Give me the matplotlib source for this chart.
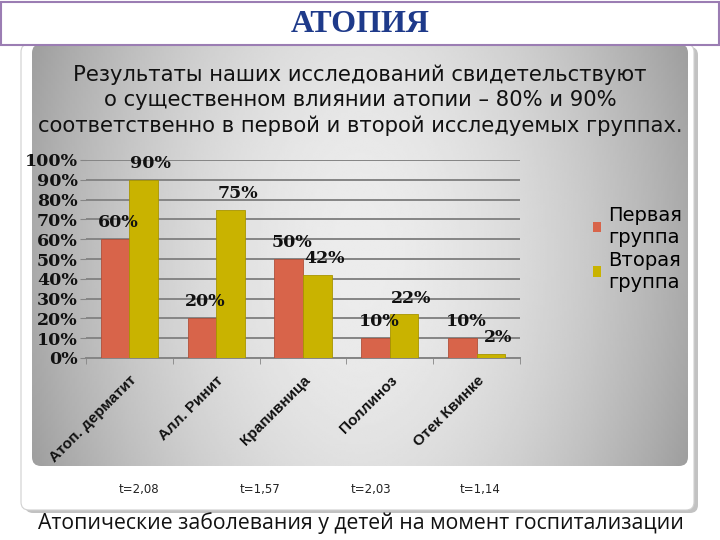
import numpy as np
import matplotlib.pyplot as plt
from matplotlib.patches import FancyBboxPatch, Rectangle, Patch

# данные
categories = ['Атоп. дерматит', 'Алл. Ринит', 'Крапивница', 'Поллиноз', 'Отек Квинке']
group1 = [60, 20, 50, 10, 10]
group2 = [90, 75, 42, 22, 2]
series_names = ['Первая\nгруппа', 'Вторая\nгруппа']
t_values = ['t=2,08', 't=1,57', 't=2,03', 't=1,14']
yticks = [0, 10, 20, 30, 40, 50, 60, 70, 80, 90, 100]

red = '#D8644A'
yellow = '#C9B300'

fig = plt.figure(figsize=(7.2, 5.4), dpi=100)
fig.patch.set_facecolor('white')

# фон слайда
bg = fig.add_axes([0, 0, 1, 1])
bg.set_xlim(0, 720)
bg.set_ylim(540, 0)
bg.axis('off')

# белая карточка с тенью
shadow = FancyBboxPatch((25, 47), 673, 466, boxstyle='round,pad=0,rounding_size=8',
                        fc='#9a9a9a', ec='none', alpha=0.6, zorder=1)
bg.add_patch(shadow)
card = FancyBboxPatch((21, 44), 673, 466, boxstyle='round,pad=0,rounding_size=8',
                      fc='white', ec='#d0d0d0', lw=0.8, zorder=2)
bg.add_patch(card)

# серая панель с градиентом
panel = FancyBboxPatch((32, 44), 656, 422, boxstyle='round,pad=0,rounding_size=9',
                       fc='none', ec='none', zorder=3)
bg.add_patch(panel)
u = np.linspace(0, 1, 300)
v = np.linspace(0, 1, 200)
U, V = np.meshgrid(u, v)
val = 236 - 66 * (np.abs(U - 0.5) * 2) ** 1.8 - 12 * (np.abs(V - 0.5) * 2) ** 2
img = np.clip(val, 0, 255) / 255.0
im = bg.imshow(img, cmap='gray', vmin=0, vmax=1, extent=[32, 688, 466, 44],
               aspect='auto', zorder=3, interpolation='bilinear')
im.set_clip_path(panel)

# заголовок
bg.add_patch(Rectangle((1, 2), 718, 43, fc='white', ec='#9B7DB3', lw=1.5, zorder=5))
bg.text(360, 24, 'АТОПИЯ', ha='center', va='center', fontsize=23, fontweight='bold',
        family='Liberation Serif', color='#1E3A8A', zorder=6)

sub = ['Результаты наших исследований свидетельствуют',
       'о существенном влиянии атопии – 80% и 90%',
       'соответственно в первой и второй исследуемых группах.']
for i, line in enumerate(sub):
    bg.text(360, 75 + i * 25.5, line, ha='center', va='center', fontsize=15.2,
            family='DejaVu Sans', color='#111111', zorder=6)

for x, t in zip([139, 260, 371, 480], t_values):
    bg.text(x, 490, t, ha='center', va='center', fontsize=8.5, family='DejaVu Sans',
            color='#222222', zorder=6)

bg.text(361, 523, 'Атопические заболевания у детей на момент госпитализации',
        ha='center', va='center', fontsize=15.3, family='Open Sans', color='#111111', zorder=6)

# диаграмма
ax = fig.add_axes([86 / 720, 1 - 358 / 540, 434 / 720, 198 / 540])
ax.set_facecolor('none')
x = np.arange(len(categories))
w = 0.33
ax.bar(x - w / 2, group1, w, color=red, edgecolor='#b0503a', lw=0.6, zorder=3)
ax.bar(x + w / 2, group2, w, color=yellow, edgecolor='#a89500', lw=0.6, zorder=3)

lab_font = dict(family='DejaVu Serif', fontweight='bold', fontsize=12.5, color='#111111')
for xi, a, b in zip(x, group1, group2):
    ax.text(xi - w / 2 + 0.04, a + 4, f'{a}%', ha='center', va='bottom', zorder=4, **lab_font)
    ax.text(xi + w / 2 + 0.08, b + 4, f'{b}%', ha='center', va='bottom', zorder=4, **lab_font)

ax.set_xlim(-0.5, len(categories) - 0.5)
ax.set_ylim(0, 100)
ax.set_yticks(yticks)
ax.set_yticklabels([f'{t}%' for t in yticks], **lab_font)
ax.yaxis.grid(True, color='#858585', lw=1.4, zorder=0)
ax.tick_params(axis='y', length=4, color='#858585', pad=2)

ax.set_xticks(x)
ax.set_xticklabels(categories, rotation=45, ha='right', rotation_mode='anchor',
                   family='Liberation Sans', fontweight='bold', fontsize=11, color='#111111')
ax.set_xticks(np.arange(len(categories) + 1) - 0.5, minor=True)
ax.tick_params(axis='x', which='major', length=0, pad=11)
ax.tick_params(axis='x', which='minor', length=4, color='#858585')

for s in ['top', 'right', 'left']:
    ax.spines[s].set_visible(False)
ax.spines['bottom'].set_color('#858585')
ax.spines['bottom'].set_linewidth(1.4)

handles = [Patch(fc=red, ec='none'), Patch(fc=yellow, ec='none')]
fig.legend(handles, series_names, loc='upper left', bbox_to_anchor=(583 / 720, 1 - 196 / 540),
           frameon=False, handlelength=0.45, handleheight=0.45, handletextpad=0.35,
           labelspacing=0.2, prop={'family': 'DejaVu Sans', 'size': 14}, borderpad=0)

fig.savefig('out.png', dpi=100)
